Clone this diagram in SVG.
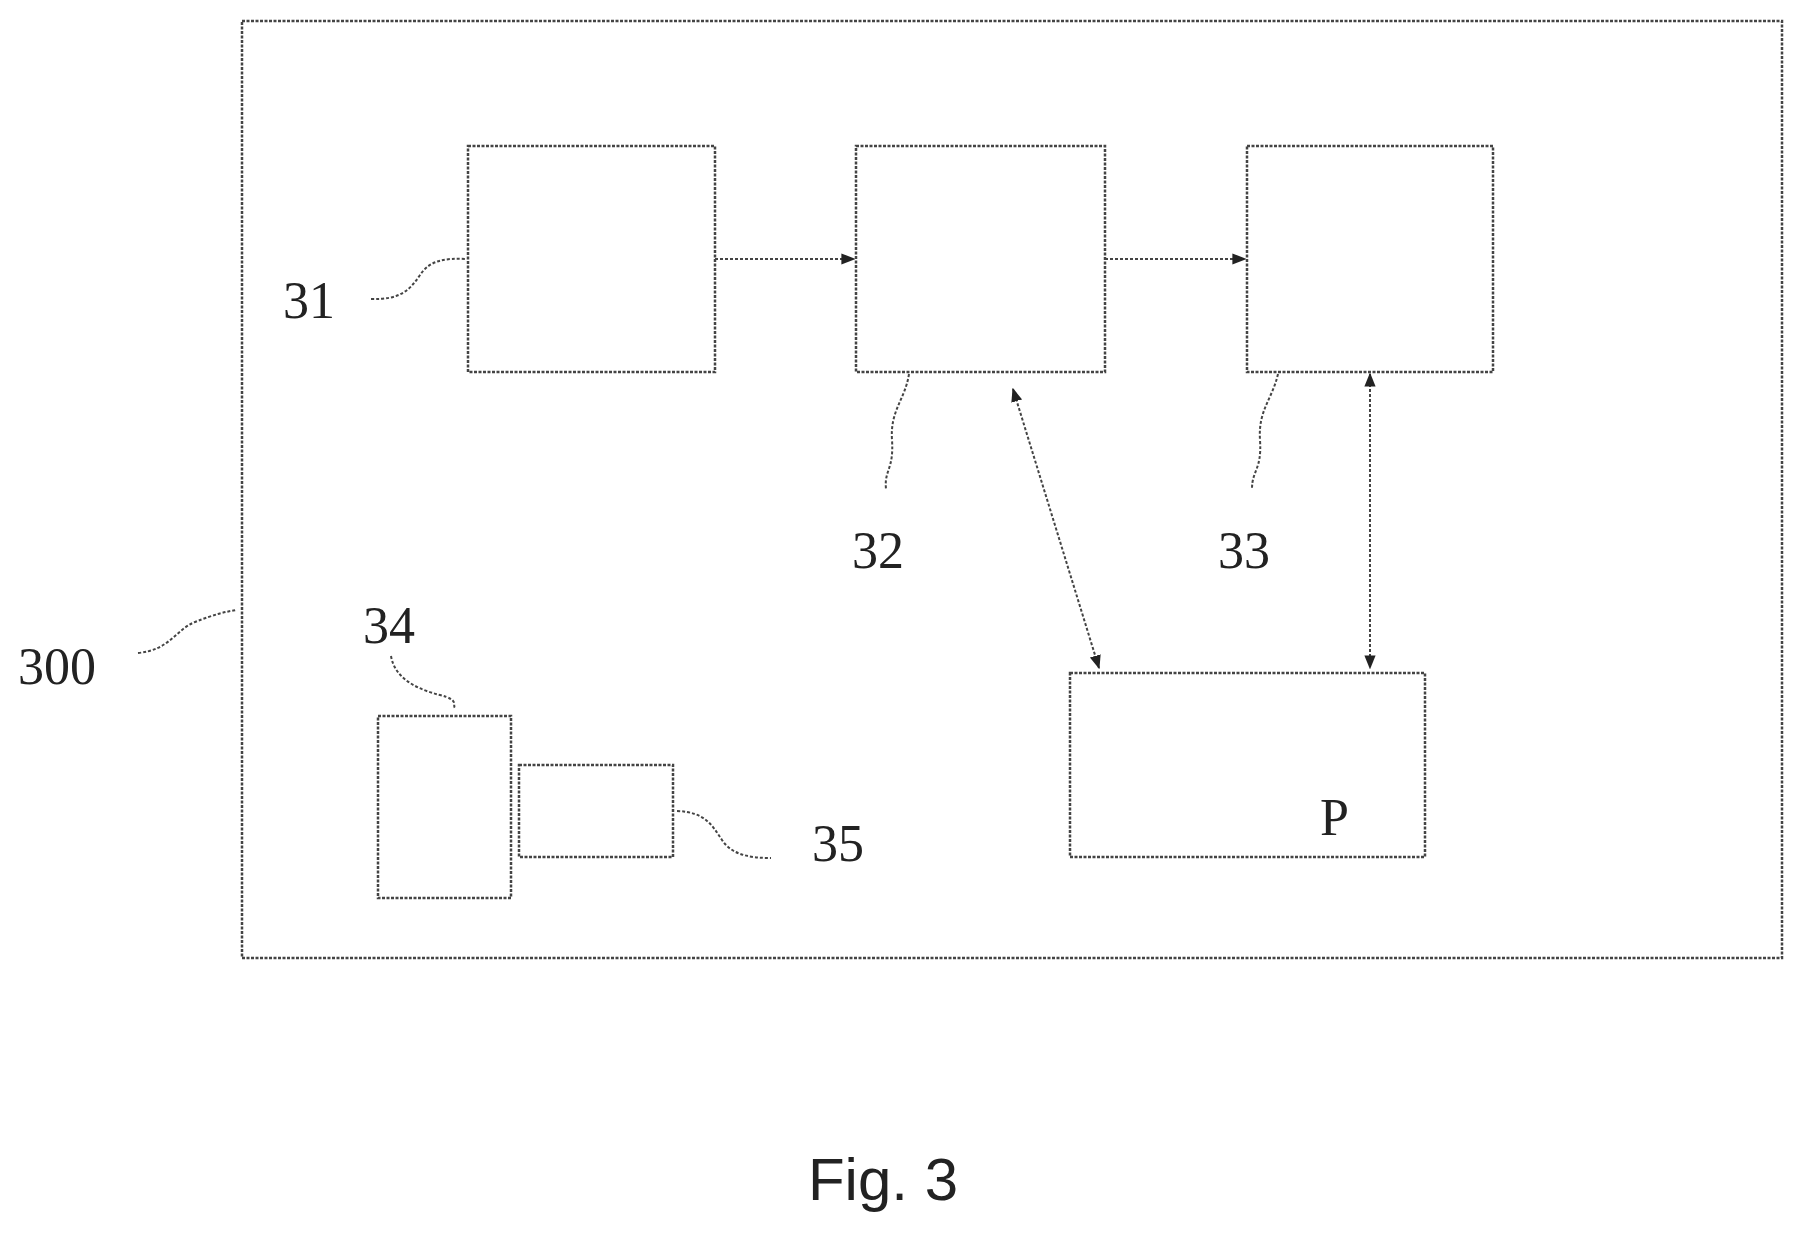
<svg xmlns="http://www.w3.org/2000/svg" width="1805" height="1240" viewBox="0 0 1805 1240">
<style>
.b{fill:none;stroke:#444;stroke-width:2.5;stroke-dasharray:3 1.5}
.c{fill:none;stroke:#444;stroke-width:2;stroke-dasharray:3 2}
.t{font-family:"Liberation Serif",serif;font-size:52px;fill:#222}
</style>
<defs>
<marker id="a" viewBox="0 0 10 10" refX="9" refY="5" markerWidth="7" markerHeight="7" orient="auto-start-reverse"><path d="M0,1 L10,5 L0,9 z" fill="#222"/></marker>
</defs>
<rect width="1805" height="1240" fill="#fff"/>
<g id="n300"><rect class="b" x="242" y="21" width="1540" height="937"/><text class="t" x="18" y="684">300</text><path class="c" d="M138,653 C170,650 175,630 195,622 S225,612 236,610"/></g>
<g id="n31"><rect class="b" x="468" y="146" width="247" height="226"/><text class="t" x="283" y="318">31</text><path class="c" d="M371,299 C400,300 410,290 420,275 S445,258 466,259"/></g>
<g id="n32"><rect class="b" x="856" y="146" width="249" height="226"/><text class="t" x="852" y="568">32</text><path class="c" d="M909,374 C905,400 890,410 892,440 S884,470 886,489"/></g>
<g id="n33"><rect class="b" x="1247" y="146" width="246" height="226"/><text class="t" x="1218" y="568">33</text><path class="c" d="M1278,374 C1272,400 1258,410 1260,440 S1252,470 1252,489"/></g>
<g id="nP"><rect class="b" x="1070" y="673" width="355" height="184"/><text class="t" x="1320" y="835">P</text></g>
<g id="n34"><rect class="b" x="378" y="716" width="133" height="182"/><text class="t" x="363" y="643">34</text><path class="c" d="M391,656 C395,680 420,690 440,695 S452,705 455,708"/></g>
<g id="n35"><rect class="b" x="519" y="765" width="154" height="92"/><text class="t" x="812" y="861">35</text><path class="c" d="M677,811 C705,812 712,825 722,840 S750,858 771,858"/></g>
<g id="connectors">
<line class="c" x1="715" y1="259" x2="854" y2="259" marker-end="url(#a)"/>
<line class="c" x1="1105" y1="259" x2="1245" y2="259" marker-end="url(#a)"/>
<line class="c" x1="1013" y1="389" x2="1099" y2="668" marker-start="url(#a)" marker-end="url(#a)"/>
<line class="c" x1="1370" y1="374" x2="1370" y2="668" marker-start="url(#a)" marker-end="url(#a)"/>
</g>
<text x="883" y="1200" text-anchor="middle" font-family="Liberation Sans,Arial,sans-serif" font-size="60" fill="#222">Fig. 3</text>
</svg>
